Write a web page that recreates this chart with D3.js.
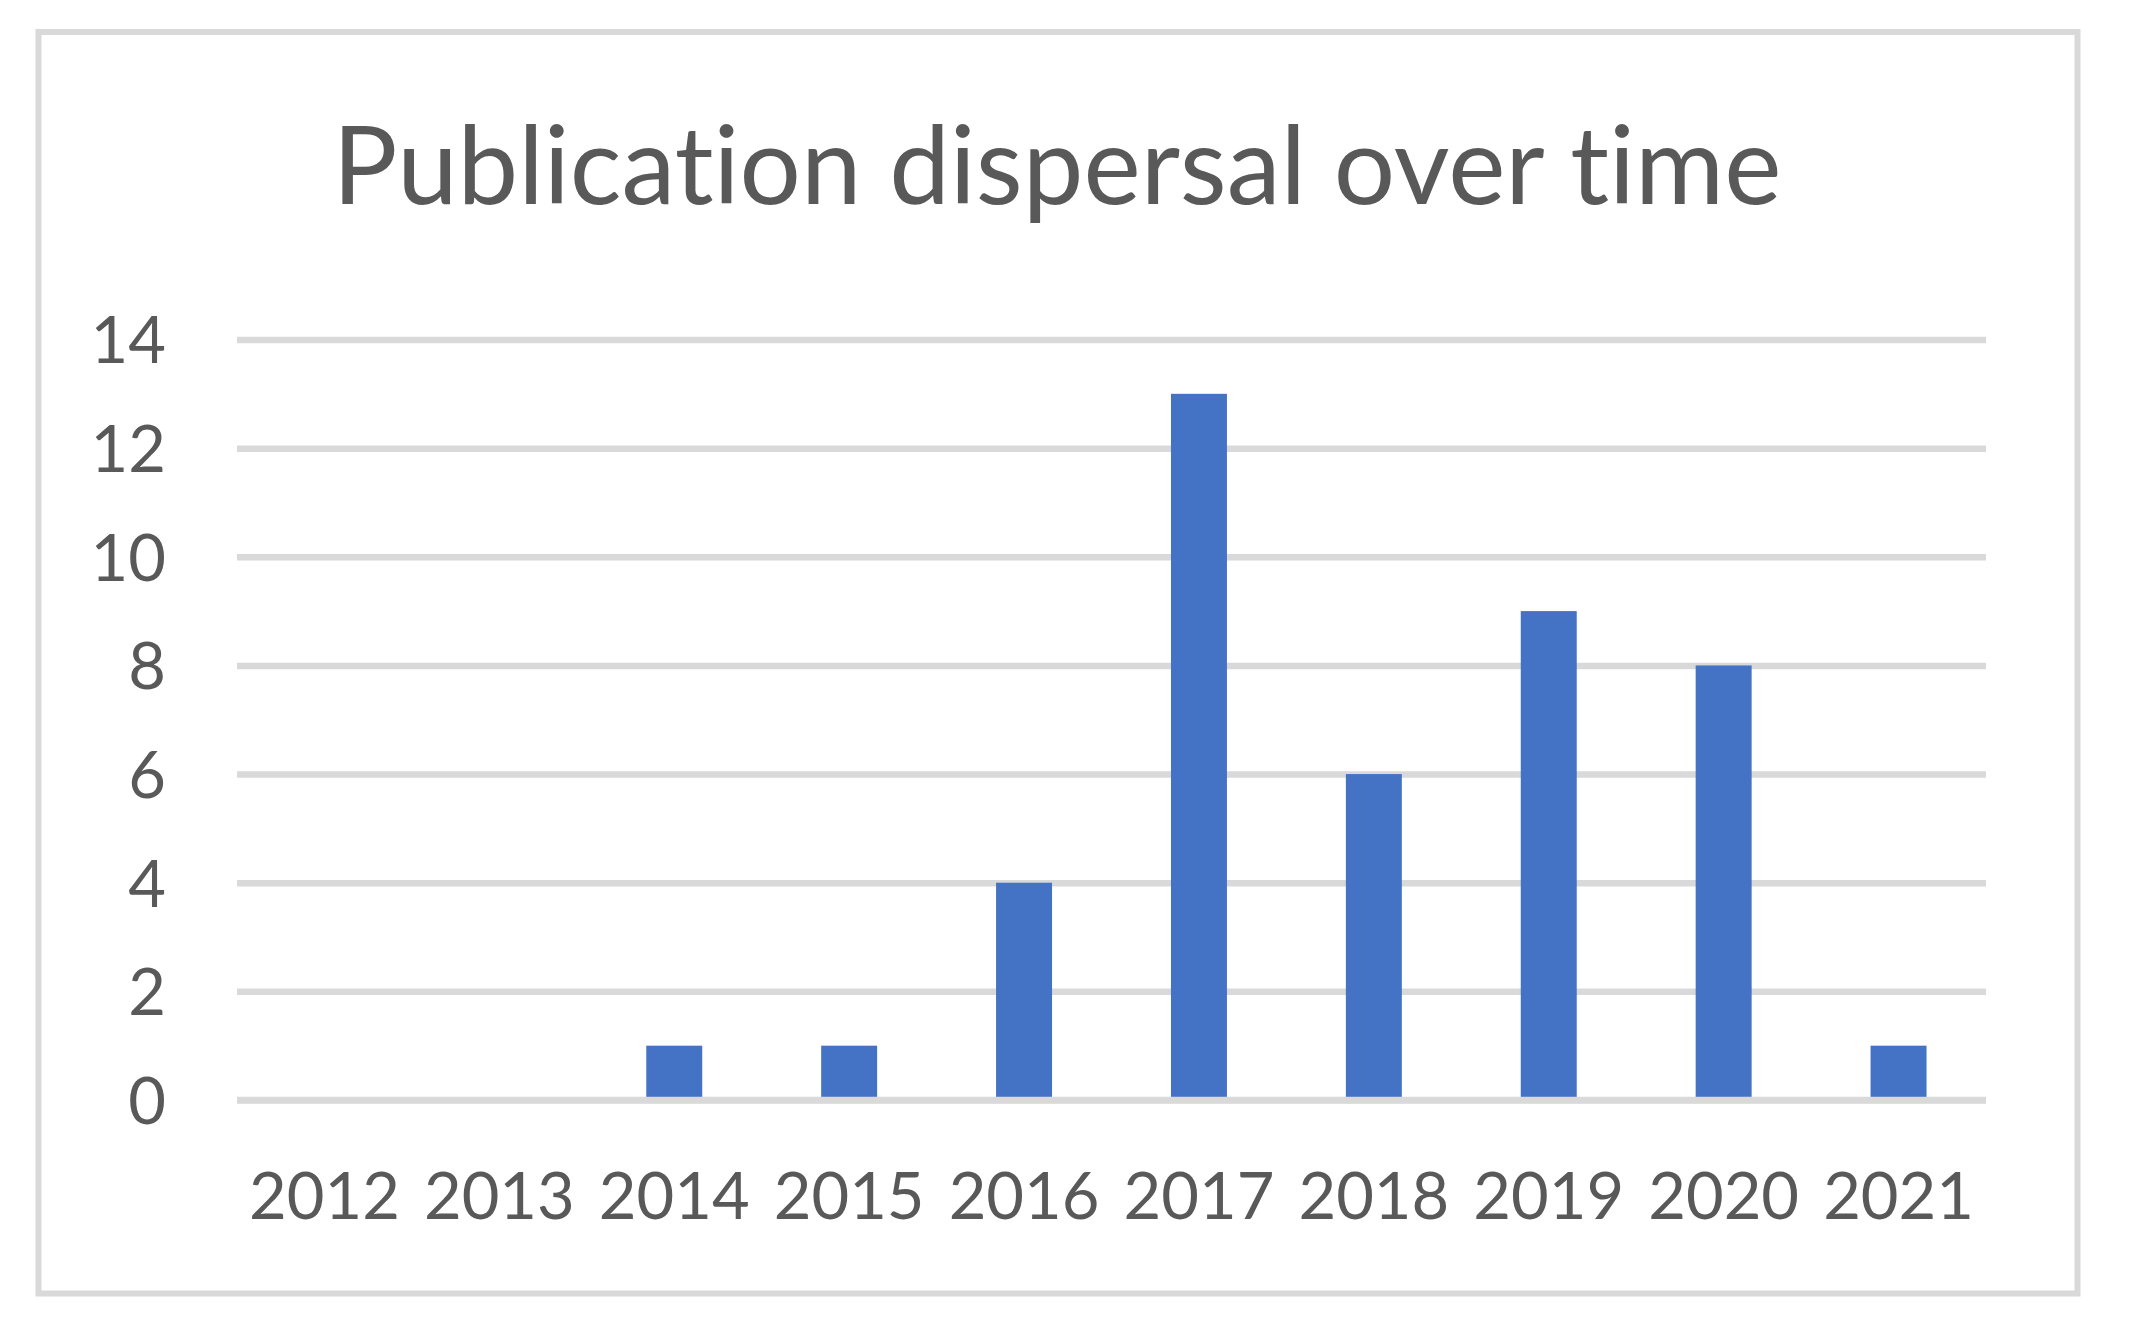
<!DOCTYPE html>
<html><head><meta charset="utf-8">
<script src="https://cdn.jsdelivr.net/npm/d3@7"></script>
<style>html,body{margin:0;padding:0;background:#fff;}svg{display:block;}text{font-variant-ligatures:none;font-feature-settings:"liga" 0,"clig" 0;}</style>
</head><body>
<svg id="chart" width="2133" height="1328"></svg>
<script>
const title = "Publication dispersal over time";
const years = ["2012","2013","2014","2015","2016","2017","2018","2019","2020","2021"];
const counts = [0,0,1,1,4,13,6,9,8,1];
const yTicks = [0,2,4,6,8,10,12,14];

const svg = d3.select("#chart");
const W = 2133, H = 1328;
const font = "Lato, 'Open Sans', sans-serif";
const textColor = "#595959";
const gridColor = "#d9d9d9";

svg.append("rect").attr("width", W).attr("height", H).attr("fill", "#fff");
svg.append("rect").attr("x", 38.5).attr("y", 32).attr("width", 2039).attr("height", 1261.5)
  .attr("fill", "#fff").attr("stroke", gridColor).attr("stroke-width", 6);

const m = {left: 237, right: 1986, top: 339.5, bottom: 1100};
const x = d3.scaleBand().domain(years).range([m.left, m.right]).paddingInner(0.68).paddingOuter(0.34);
const y = d3.scaleLinear().domain([0, 14]).range([m.bottom, m.top]);

const t = svg.append("text").attr("x", 1057).attr("y", 204).attr("text-anchor", "middle")
  .attr("font-family", font).attr("font-size", 100).attr("fill", textColor).text(title);
// fit to reference width
const tw = t.node().getComputedTextLength();
t.attr("font-size", 100 * 1449 / tw);

// gridlines
const yAxis = d3.axisLeft(y).tickValues(yTicks).tickSize(-(m.right - m.left)).tickPadding(71).tickFormat(d3.format("d"));
const gy = svg.append("g").attr("transform", `translate(${m.left},0)`).call(yAxis);
gy.select(".domain").remove();
gy.selectAll(".tick line").attr("stroke", gridColor).attr("stroke-width", 6.5);
gy.selectAll(".tick text").attr("font-family", font).attr("font-size", 65).attr("fill", textColor)
  .attr("dy", "0.36em");

// bars
svg.append("g").selectAll("rect").data(years.map((yr, i) => ({yr, v: counts[i]})))
  .join("rect")
  .attr("x", d => x(d.yr)).attr("width", x.bandwidth())
  .attr("y", d => y(d.v)).attr("height", d => y(0) - y(d.v))
  .attr("fill", "#4472C4");

// zero axis line on top
svg.append("line").attr("x1", m.left).attr("x2", m.right).attr("y1", y(0)).attr("y2", y(0))
  .attr("stroke", gridColor).attr("stroke-width", 6.5);

// x axis labels
const xAxis = d3.axisBottom(x).tickSize(0).tickPadding(0);
const gx = svg.append("g").attr("transform", `translate(0,${m.bottom})`).call(xAxis);
gx.select(".domain").remove();
gx.selectAll(".tick text").attr("font-family", font).attr("font-size", 65).attr("fill", textColor)
  .attr("dy", null).attr("y", 119);
</script>
</body></html>
